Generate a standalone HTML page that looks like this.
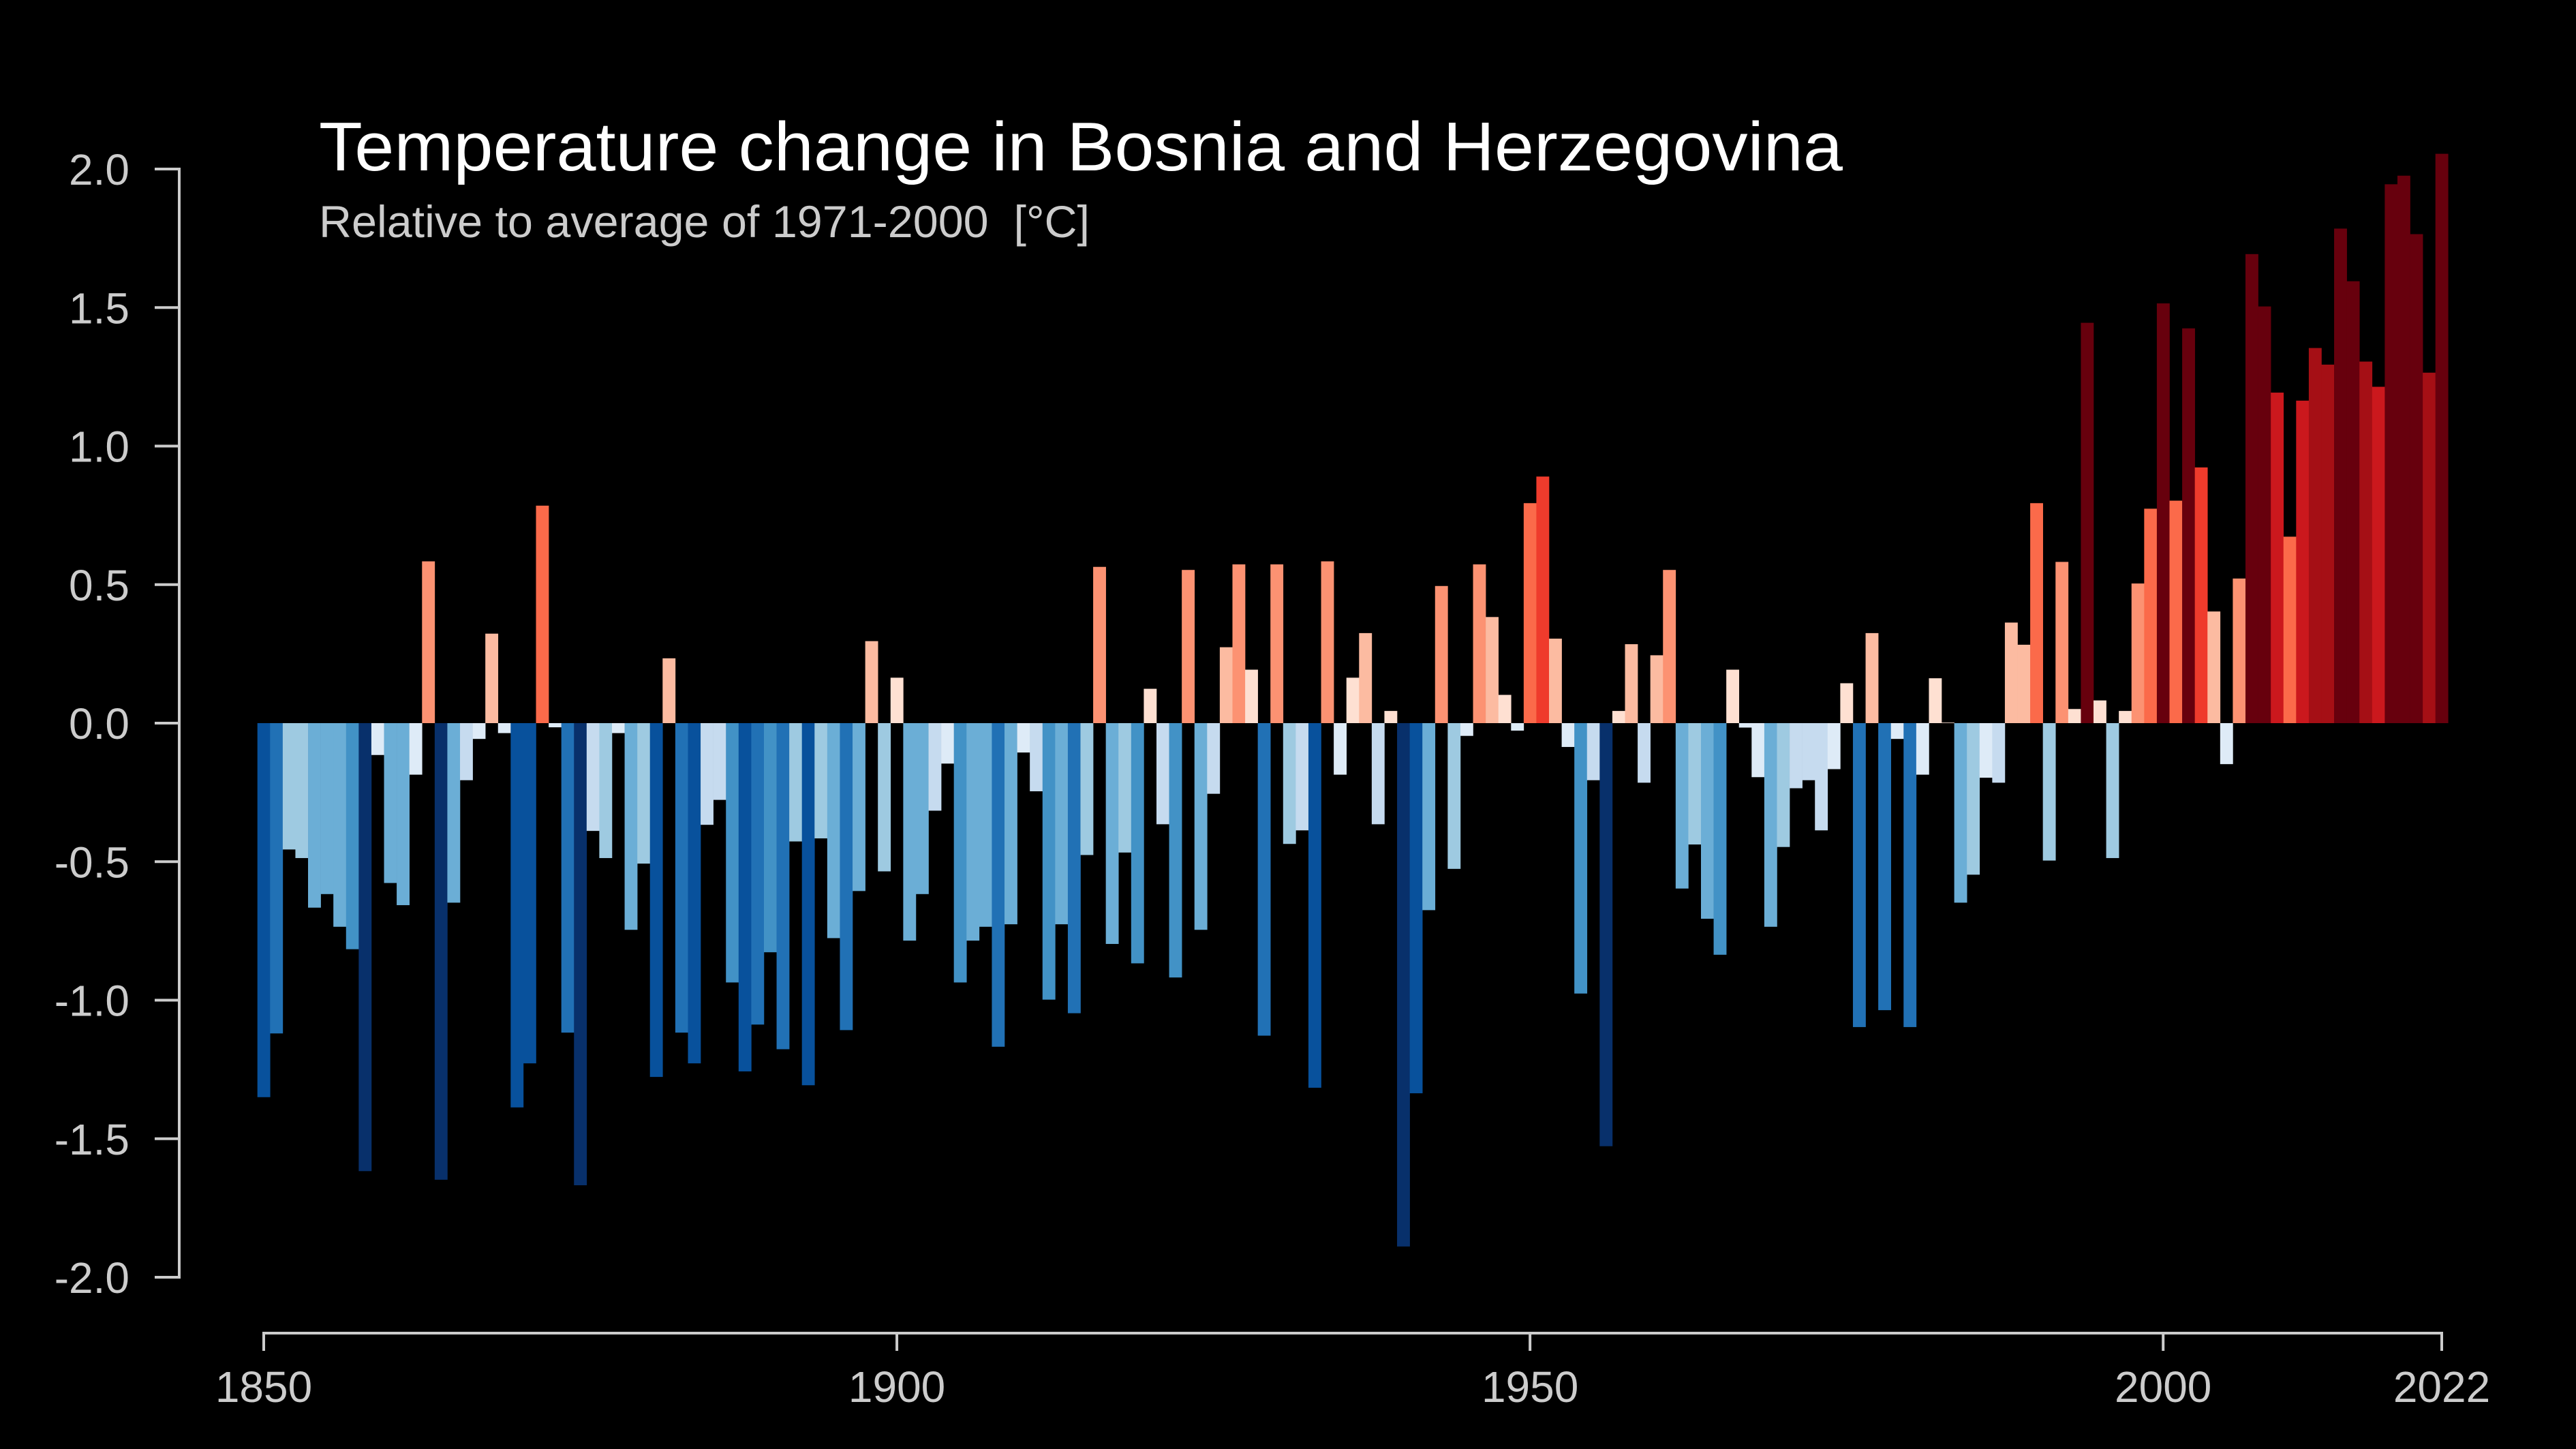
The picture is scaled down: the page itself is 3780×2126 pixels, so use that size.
<!DOCTYPE html>
<html><head><meta charset="utf-8"><style>
html,body{margin:0;padding:0;background:#000;}
svg{display:block;}
text{font-family:"Liberation Sans",sans-serif;}
</style></head><body>
<svg id="chart" width="3780" height="2126" viewBox="0 0 3780 2126" xmlns="http://www.w3.org/2000/svg">
<rect width="3780" height="2126" fill="#000"/>
<text x="468" y="250" font-size="101" fill="#fff" textLength="2236" lengthAdjust="spacingAndGlyphs">Temperature change in Bosnia and Herzegovina</text>
<text x="468" y="348" font-size="66" fill="#cccccc" textLength="1131" lengthAdjust="spacingAndGlyphs">Relative to average of 1971-2000&#160; [°C]</text>
<g id="bars"></g>
<g id="axes"></g>
</svg>
<script>
const startYear = 1850;
const values = [
-1.35,-1.12,-0.456,-0.487,-0.666,-0.617,-0.735,-0.816,-1.617,-0.115,
-0.577,-0.657,-0.186,0.584,-1.648,-0.648,-0.206,-0.057,0.323,-0.036,
-1.387,-1.228,0.785,-0.015,-1.117,-1.668,-0.389,-0.487,-0.036,-0.746,
-0.507,-1.277,0.234,-1.117,-1.228,-0.367,-0.277,-0.936,-1.257,-1.088,
-0.827,-1.177,-0.427,-1.307,-0.416,-0.776,-1.108,-0.606,0.296,-0.535,
0.164,-0.785,-0.617,-0.316,-0.146,-0.936,-0.785,-0.735,-1.168,-0.726,
-0.106,-0.246,-0.998,-0.726,-1.047,-0.476,0.564,-0.797,-0.467,-0.867,
0.124,-0.365,-0.918,0.553,-0.746,-0.255,0.274,0.573,0.193,-1.128,
0.573,-0.436,-0.387,-1.316,0.584,-0.186,0.164,0.325,-0.365,0.044,
-1.889,-1.336,-0.675,0.495,-0.526,-0.046,0.573,0.383,0.102,-0.027,
0.794,0.89,0.305,-0.086,-0.976,-0.206,-1.527,0.044,0.285,-0.215,
0.245,0.553,-0.597,-0.438,-0.706,-0.836,0.193,-0.016,-0.195,-0.735,
-0.447,-0.235,-0.206,-0.387,-0.166,0.144,-1.097,0.325,-1.036,-0.057,
-1.097,-0.186,0.162,0.002,-0.648,-0.547,-0.197,-0.215,0.363,0.283,
0.794,-0.496,0.582,0.051,1.445,0.082,-0.487,0.044,0.504,0.774,
1.515,0.803,1.425,0.923,0.403,-0.148,0.522,1.693,1.504,1.193,
0.673,1.164,1.354,1.294,1.785,1.595,1.305,1.214,1.945,1.976,
1.765,1.265,2.055
];
const yTicks = [2.0,1.5,1.0,0.5,0.0,-0.5,-1.0,-1.5,-2.0];
const yTickLabels = ["2.0","1.5","1.0","0.5","0.0","-0.5","-1.0","-1.5","-2.0"];
const xTicks = [1850,1900,1950,2000,2022];

const NS = "http://www.w3.org/2000/svg";
const X0 = 387, X1 = 3583, yr0 = 1850, yr1 = 2022;
const Y0 = 1061, UNIT = 406.5;
function xs(y){ return X0 + (y - yr0) * (X1 - X0) / (yr1 - yr0); }
function ys(v){ return Y0 - v * UNIT; }
const bw = (X1 - X0) / (yr1 - yr0);
function color(v){
  if (v < -1.45) return "#08306b";
  if (v < -1.2) return "#08519c";
  if (v < -1.0) return "#2171b5";
  if (v < -0.8) return "#4292c6";
  if (v < -0.55) return "#6baed6";
  if (v < -0.4) return "#9ecae1";
  if (v < -0.2) return "#c6dbef";
  if (v < 0) return "#deebf7";
  if (v < 0.2) return "#fee0d2";
  if (v < 0.45) return "#fcbba1";
  if (v < 0.6) return "#fc9272";
  if (v < 0.85) return "#fb6a4a";
  if (v < 1.0) return "#ef3b2c";
  if (v < 1.25) return "#cb181d";
  if (v < 1.4) return "#a50f15";
  return "#67000d";
}
const gb = document.getElementById("bars");
values.forEach((v, i) => {
  const yr = startYear + i;
  const r = document.createElementNS(NS, "rect");
  r.setAttribute("x", (xs(yr) - bw / 2).toFixed(2));
  r.setAttribute("width", (bw + 0.3).toFixed(2));
  r.setAttribute("y", Math.min(ys(v), ys(0)).toFixed(2));
  r.setAttribute("height", Math.max(Math.abs(ys(v) - ys(0)), 0.5).toFixed(2));
  r.setAttribute("fill", color(v));
  
  
  gb.appendChild(r);
});
const ga = document.getElementById("axes");
function line(x1, y1, x2, y2, name){
  const l = document.createElementNS(NS, "line");
  l.setAttribute("x1", x1); l.setAttribute("y1", y1);
  l.setAttribute("x2", x2); l.setAttribute("y2", y2);
  l.setAttribute("stroke", "#cccccc"); l.setAttribute("stroke-width", "4");
  l.setAttribute("stroke-linecap", "square");
  
  
  ga.appendChild(l);
}
function label(x, y, s, anchor, name){
  const t = document.createElementNS(NS, "text");
  t.setAttribute("x", x); t.setAttribute("y", y);
  t.setAttribute("font-size", "64"); t.setAttribute("fill", "#cccccc");
  t.setAttribute("text-anchor", anchor);
  t.textContent = s;
  
  
  ga.appendChild(t);
}
line(263, ys(yTicks[0]), 263, ys(yTicks[yTicks.length - 1]), "y-axis-line");
yTicks.forEach((v, i) => {
  line(229, ys(v), 263, ys(v), "y-tick");
  label(190, ys(v) + 23, yTickLabels[i], "end", "y-tick-label");
});
line(xs(xTicks[0]), 1956, xs(xTicks[xTicks.length - 1]), 1956, "x-axis-line");
xTicks.forEach(t => {
  line(xs(t), 1956, xs(t), 1980, "x-tick");
  label(xs(t), 2057, String(t), "middle", "x-tick-label");
});
</script>
</body></html>
